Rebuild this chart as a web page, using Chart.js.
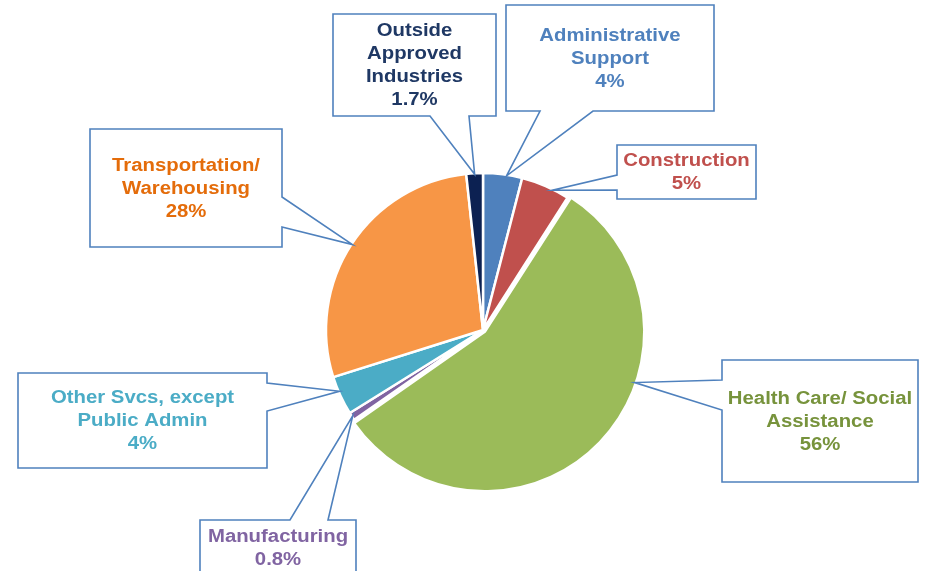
<!DOCTYPE html>
<html>
<head>
<meta charset="utf-8">
<script src="https://cdn.jsdelivr.net/npm/chart.js@4/dist/chart.umd.min.js"></script>
<style>
  html, body { margin: 0; padding: 0; background: #fff; }
  #wrap { width: 932px; height: 571px; position: relative; }
</style>
</head>
<body>
<div id="wrap"><canvas id="pieChart"></canvas></div>
<script>
// Data (clockwise from 12 o'clock)
const categories = [
    'Administrative\nSupport',
    'Construction',
    'Health Care/ Social\nAssistance',
    'Manufacturing',
    'Other Svcs, except\nPublic Admin',
    'Transportation/\nWarehousing',
    'Outside\nApproved\nIndustries'
];
const shares = [4, 5, 56, 0.8, 4, 28, 1.7];
const sliceColors = ['#4f81bd', '#c0504d', '#9bbb59', '#8064a2', '#4bacc6', '#f79646', '#0c2152'];
const textColors = ['#4f81bd', '#c0504d', '#77933c', '#8064a2', '#4bacc6', '#e46c0a', '#1f3864'];
const sliceOffsets = [0, 0, 10, 0, 0, 0, 0];

// callout boxes: box rect, side carrying the wedge, wedge base (a..b), tip fraction along the slice
const callouts = [
    { x: 506, y: 5,   w: 208, h: 106, side: 'bottom', a: 540, b: 593, f: 0.6 },
    { x: 617, y: 145, w: 139, h: 54,  side: 'left',   a: 175, b: 190, f: 0.66 },
    { x: 722, y: 360, w: 196, h: 122, side: 'left',   a: 380, b: 410, f: 0.374 },
    { x: 200, y: 520, w: 156, h: 55,  side: 'top',    a: 290, b: 328, f: 0.5 },
    { x: 18,  y: 373, w: 249, h: 95,  side: 'right',  a: 383, b: 411, f: 0.61 },
    { x: 90,  y: 129, w: 192, h: 118, side: 'right',  a: 197, b: 227, f: 0.5 },
    { x: 333, y: 14,  w: 163, h: 102, side: 'bottom', a: 430, b: 469, f: 0.5 }
];

const calloutPlugin = {
    id: 'callouts',
    afterDatasetsDraw(chart) {
        const ctx = chart.ctx;
        const meta = chart.getDatasetMeta(0);
        ctx.save();
        callouts.forEach((c, i) => {
            const arc = meta.data[i];
            const ang = arc.startAngle + c.f * (arc.endAngle - arc.startAngle);
            // same shift chart.js applies to an offset slice
            const half = (arc.startAngle + arc.endAngle) / 2;
            const circ = arc.endAngle - arc.startAngle;
            const off = (sliceOffsets[i] || 0) / 4;
            const fix = 1 - Math.sin(Math.min(Math.PI, circ));
            const shift = off + off * fix;
            const cx = arc.x + Math.cos(half) * shift;
            const cy = arc.y + Math.sin(half) * shift;
            const tx = cx + Math.cos(ang) * (arc.outerRadius - 1);
            const ty = cy + Math.sin(ang) * (arc.outerRadius - 1);

            const L = c.x, T = c.y, R = c.x + c.w, B = c.y + c.h;
            ctx.beginPath();
            ctx.moveTo(L, T);
            if (c.side === 'top') { ctx.lineTo(c.a, T); ctx.lineTo(tx, ty); ctx.lineTo(c.b, T); }
            ctx.lineTo(R, T);
            if (c.side === 'right') { ctx.lineTo(R, c.a); ctx.lineTo(tx, ty); ctx.lineTo(R, c.b); }
            ctx.lineTo(R, B);
            if (c.side === 'bottom') { ctx.lineTo(c.b, B); ctx.lineTo(tx, ty); ctx.lineTo(c.a, B); }
            ctx.lineTo(L, B);
            if (c.side === 'left') { ctx.lineTo(L, c.b); ctx.lineTo(tx, ty); ctx.lineTo(L, c.a); }
            ctx.closePath();
            ctx.fillStyle = '#ffffff';
            ctx.fill();
            ctx.lineWidth = 1.6;
            ctx.strokeStyle = '#4f81bd';
            ctx.stroke();

            // text (the source image is a bit stretched sideways)
            const lines = categories[i].split('\n').concat([shares[i] + '%']);
            const lh = 23;
            const midX = c.x + c.w / 2;
            const startY = c.y + c.h / 2 - (lines.length - 1) * lh / 2;
            ctx.save();
            ctx.translate(midX, 0);
            ctx.scale(1.13, 1);
            ctx.font = 'bold 18px "Liberation Sans", Arial, sans-serif';
            ctx.textAlign = 'center';
            ctx.textBaseline = 'middle';
            ctx.fillStyle = textColors[i];
            lines.forEach((t, k) => ctx.fillText(t, 0, startY + k * lh + 1));
            ctx.restore();
        });
        ctx.restore();
    }
};

new Chart(document.getElementById('pieChart'), {
    type: 'pie',
    data: {
        labels: categories,
        datasets: [{
            data: shares,
            backgroundColor: sliceColors,
            borderColor: '#ffffff',
            borderWidth: 2.5,
            offset: sliceOffsets
        }]
    },
    options: {
        responsive: true,
        maintainAspectRatio: false,
        animation: false,
        radius: 157,
        layout: { padding: { left: 34, right: 0, top: 89, bottom: 0 } },
        plugins: { legend: { display: false }, tooltip: { enabled: false } }
    },
    plugins: [calloutPlugin]
});
</script>
</body>
</html>
